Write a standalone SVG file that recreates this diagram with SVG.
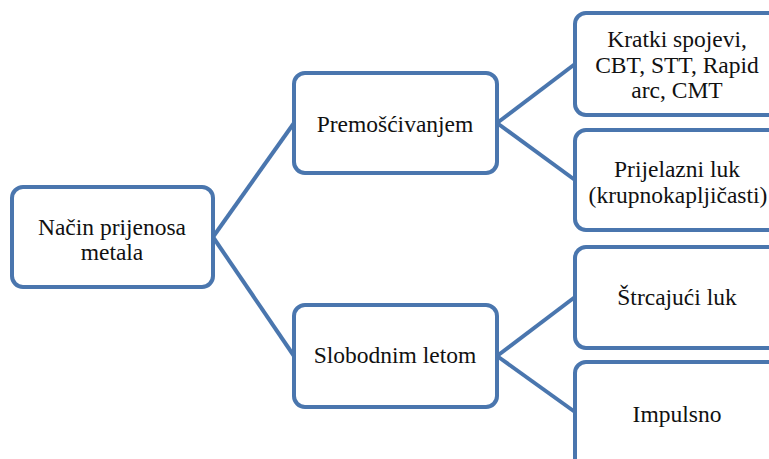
<svg xmlns="http://www.w3.org/2000/svg" width="769" height="459" viewBox="0 0 769 459">
<style>
.box{fill:#fff;stroke:#4A76AE;stroke-width:4}
.ln{stroke:#4A76AE;stroke-width:4;fill:none}
text{font-family:'Liberation Serif','Times New Roman',serif;font-size:23.5px;fill:#111;text-anchor:middle}
</style>
<rect width="769" height="459" fill="#fff"/>
<g id="connectors">
<line class="ln" x1="213" y1="237" x2="294" y2="123"/>
<line class="ln" x1="213" y1="237" x2="294" y2="356"/>
<line class="ln" x1="497" y1="123" x2="575" y2="64"/>
<line class="ln" x1="497" y1="123" x2="575" y2="180"/>
<line class="ln" x1="497" y1="356" x2="575" y2="297"/>
<line class="ln" x1="497" y1="356" x2="575" y2="412"/>
</g>
<g id="n-root">
<rect class="box" x="12" y="187" width="201" height="100" rx="11"/>
<text x="112" y="235">Način prijenosa</text>
<text x="112" y="260">metala</text>
</g>
<g id="n-premos">
<rect class="box" x="294" y="73" width="203" height="100" rx="11"/>
<text x="395" y="132">Premošćivanjem</text>
</g>
<g id="n-slob">
<rect class="box" x="294" y="305" width="203" height="102" rx="11"/>
<text x="395" y="363">Slobodnim letom</text>
</g>
<g id="n-kratki">
<rect class="box" x="575" y="13" width="204" height="102" rx="11"/>
<text x="677" y="47">Kratki spojevi,</text>
<text x="677" y="73">CBT, STT, Rapid</text>
<text x="677" y="98">arc, CMT</text>
</g>
<g id="n-prijelazni">
<rect class="box" x="575" y="130" width="204" height="100" rx="11"/>
<text x="677" y="177">Prijelazni luk</text>
<text x="678" y="203">(krupnokapljičasti)</text>
</g>
<g id="n-strc">
<rect class="box" x="575" y="247" width="204" height="101" rx="11"/>
<text x="677" y="305">Štrcajući luk</text>
</g>
<g id="n-imp">
<rect class="box" x="575" y="362" width="204" height="110" rx="11"/>
<text x="677" y="422">Impulsno</text>
</g>
</svg>
